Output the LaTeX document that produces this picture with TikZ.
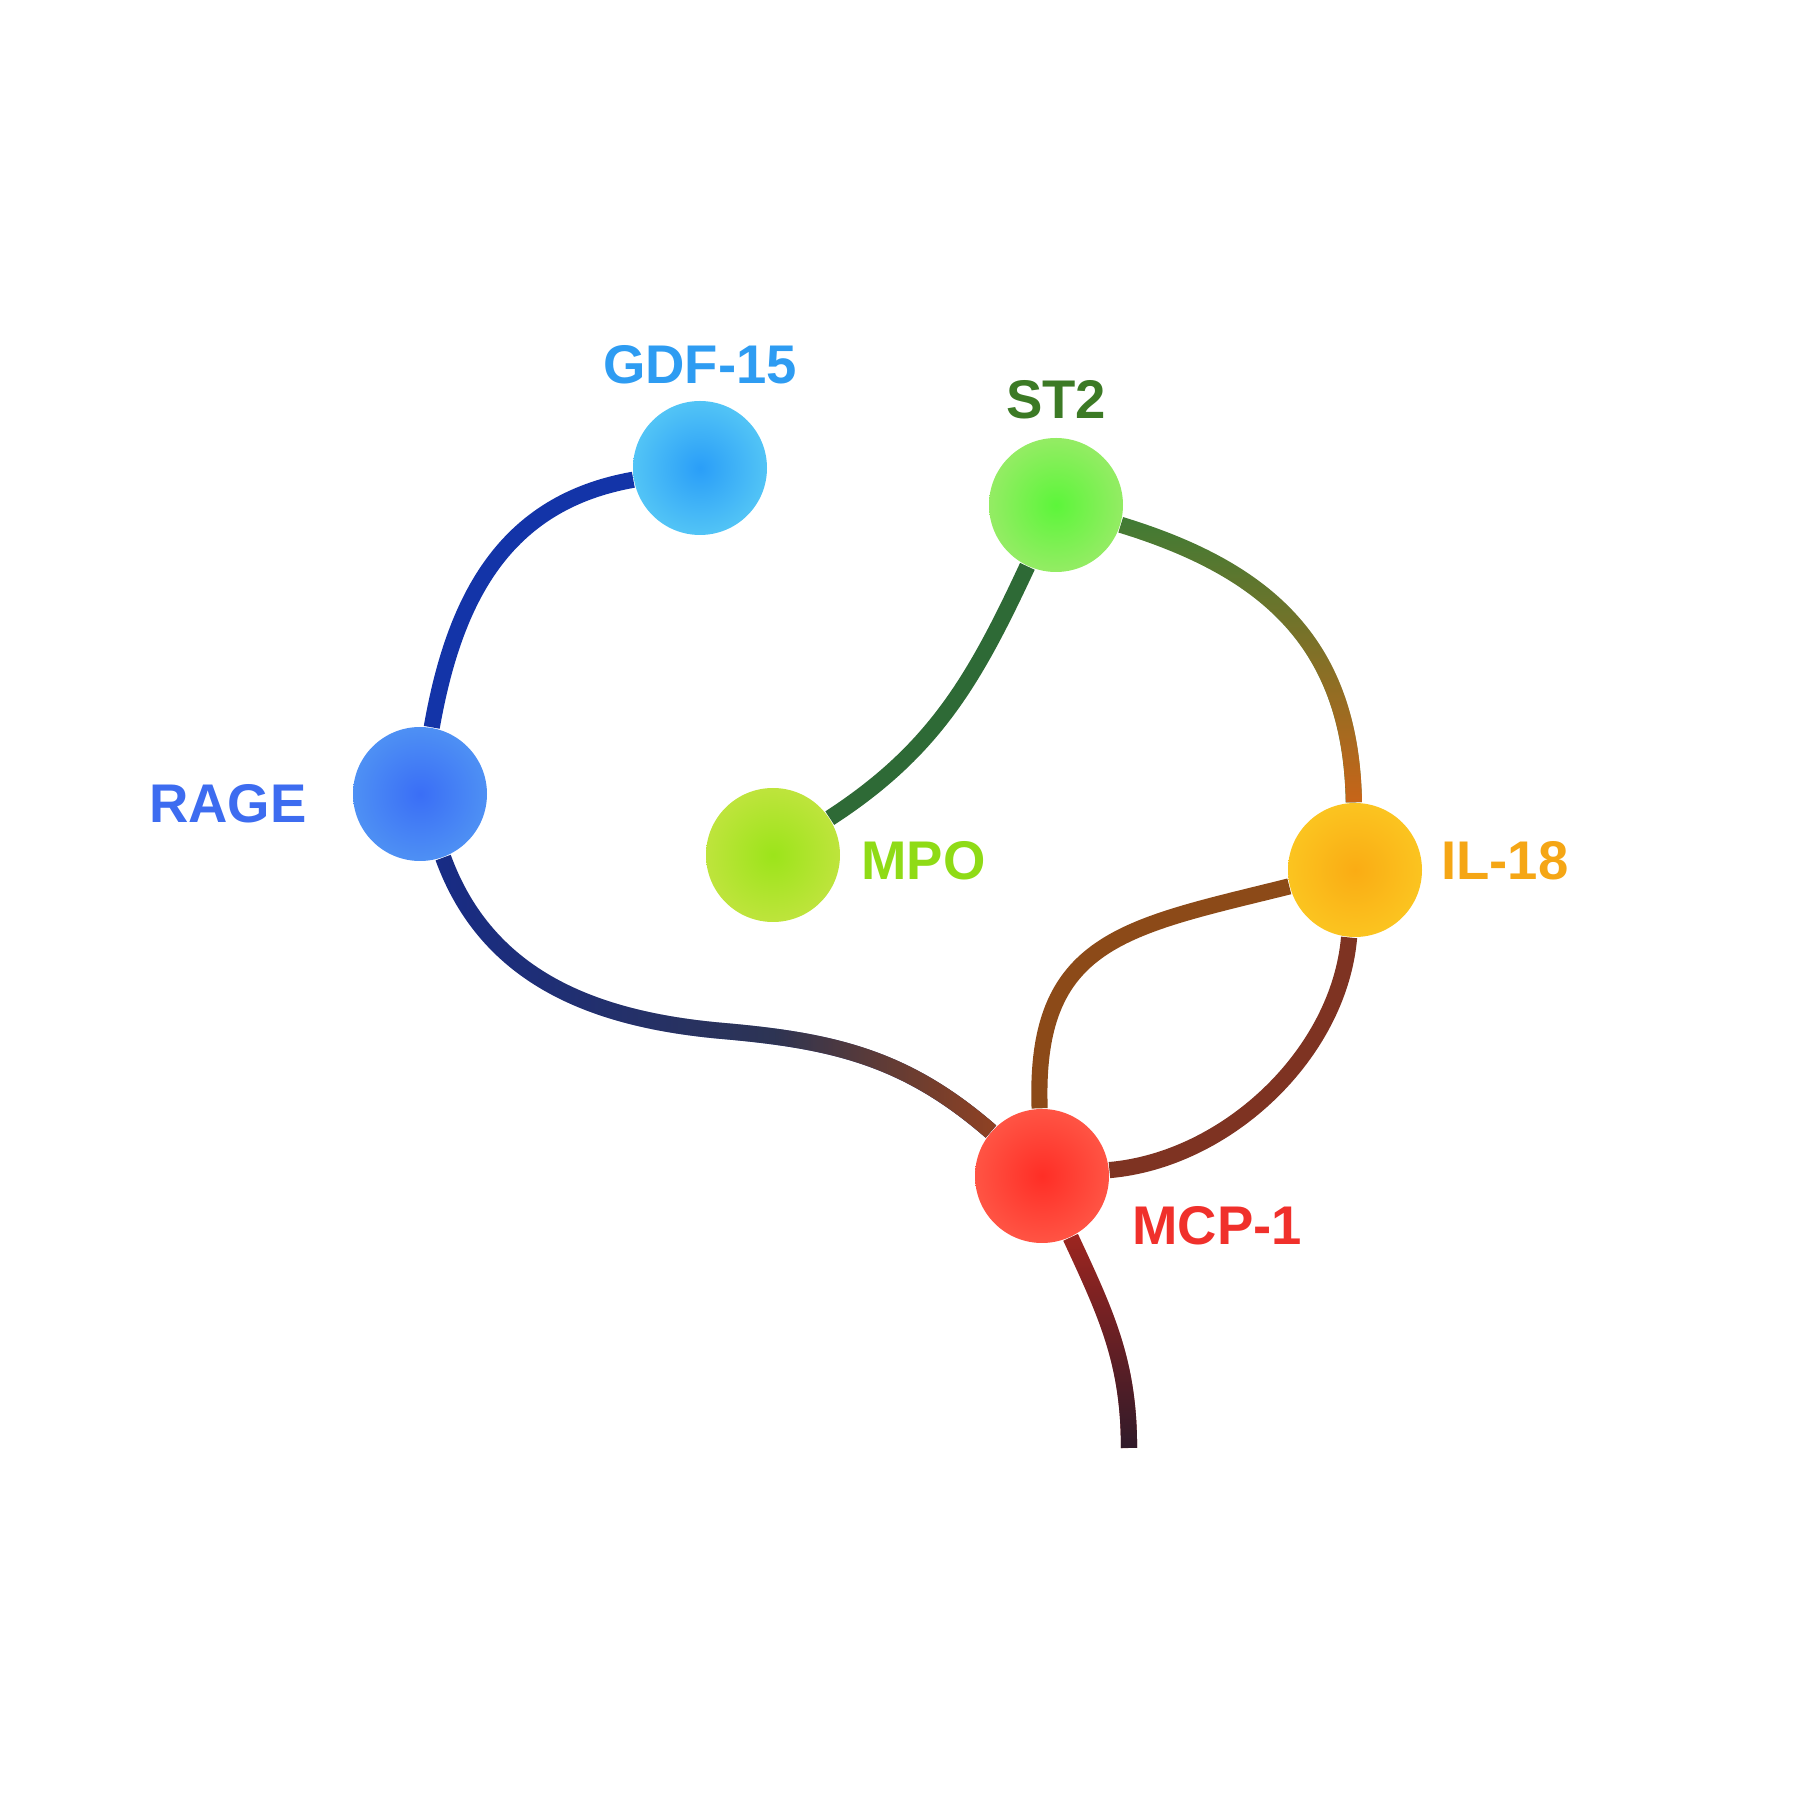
\documentclass[tikz,border=0pt]{standalone}
\usepackage{fontspec}
\setmainfont{Liberation Sans}
\usetikzlibrary{positioning,backgrounds,fadings}

\definecolor{gdfin}{HTML}{2A9EF8}
\definecolor{gdfout}{HTML}{52C4F6}
\definecolor{st2in}{HTML}{5CF63A}
\definecolor{st2out}{HTML}{94EC64}
\definecolor{ragein}{HTML}{3A6EF6}
\definecolor{rageout}{HTML}{4E90F4}
\definecolor{mpoin}{HTML}{9CE41A}
\definecolor{mpoout}{HTML}{BEE43C}
\definecolor{ilin}{HTML}{FAAC14}
\definecolor{ilout}{HTML}{FBC420}
\definecolor{mcpin}{HTML}{FF2E26}
\definecolor{mcpout}{HTML}{FF5444}

\definecolor{gdftext}{HTML}{2E9CF2}
\definecolor{st2text}{HTML}{3C7A25}
\definecolor{ragetext}{HTML}{3D6CF0}
\definecolor{mpotext}{HTML}{8FDB16}
\definecolor{iltext}{HTML}{F5A615}
\definecolor{mcptext}{HTML}{F0302B}

\definecolor{navy}{HTML}{1334A8}
\definecolor{darknavy}{HTML}{182C86}
\definecolor{soot}{HTML}{3C3A33}
\definecolor{moss}{HTML}{2E6A36}
\definecolor{leaf}{HTML}{407C35}
\definecolor{rust}{HTML}{CC6418}
\definecolor{brick}{HTML}{BC461C}
\definecolor{umber}{HTML}{8C4A18}
\definecolor{maroon}{HTML}{7E3322}
\definecolor{wine}{HTML}{A02620}
\definecolor{plum}{HTML}{2C1A2A}

\tikzfading[name=fadesouth, top color=transparent!100, bottom color=transparent!0]
\tikzfading[name=fadeeast, left color=transparent!100, right color=transparent!0]
\pgfdeclarehorizontalshading{lateshade}{100bp}{color(0bp)=(black); color(55bp)=(black); color(85bp)=(white); color(100bp)=(white)}
\pgfdeclarefading{lateeast}{\pgfuseshading{lateshade}}
\pgfdeclareverticalshading{endshade}{100bp}{color(0bp)=(white); color(3bp)=(white); color(13bp)=(black); color(100bp)=(black)}
\pgfdeclarefading{tipfade}{\pgfuseshading{endshade}}

\begin{document}
\begin{tikzpicture}[
        ball/.style={circle, minimum size=1.34cm, inner sep=0pt, shading=radial},
        lbl/.style={inner sep=0pt, font=\fontsize{15.5}{18}\selectfont\bfseries},
        wire/.style={line width=4.6pt}]
        \useasboundingbox (0,0) rectangle (18,18);

        \node(gdf)[ball, inner color=gdfin, outer color=gdfout] at (7.00,13.32) {};
        \node(st2)[ball, inner color=st2in, outer color=st2out] at (10.56,12.95) {};
        \node(rage)[ball, inner color=ragein, outer color=rageout] at (4.20,10.06) {};
        \node(mpo)[ball, inner color=mpoin, outer color=mpoout] at (7.73,9.45) {};
        \node(il18)[ball, inner color=ilin, outer color=ilout] at (13.55,9.30) {};
        \node(mcp)[ball, inner color=mcpin, outer color=mcpout] at (10.42,6.24) {};

        \node(gdfl)[lbl, text=gdftext, above=0.16cm of gdf] {GDF-15};
        \node(st2l)[lbl, text=st2text, above=0.18cm of st2] {ST2};
        \node(ragel)[lbl, text=ragetext, left=0.45cm of rage, yshift=-0.1cm] {RAGE};
        \node(mpol)[lbl, text=mpotext, right=0.2cm of mpo, yshift=-0.06cm] {MPO};
        \node(il18l)[lbl, text=iltext, right=0.18cm of il18, yshift=0.09cm] {IL-18};
        \node(mcpl)[lbl, text=mcptext, right=0.22cm of mcp, yshift=-0.5cm] {MCP-1};

        \coordinate(bend) at (7.23,7.69);
        \coordinate(tail) at (11.29,3.52);

        \begin{scope}[on background layer]
        \draw[wire, navy] (gdf) to[out=190, in=80, looseness=1.05] (rage);
        \draw[wire, moss] (st2) to[out=245, in=33] (mpo);
        \draw[wire, leaf] (st2) to[out=-17, in=91, looseness=1.1] (il18);
        \draw[wire, rust, path fading=fadesouth] (st2) to[out=-17, in=91, looseness=1.1] (il18);
        \draw[wire, darknavy] (rage) to[out=290, in=175] (bend) to[out=-5, in=139] (mcp);
        \draw[wire, soot, path fading=fadeeast] (rage) to[out=290, in=175] (bend) to[out=-5, in=139] (mcp);
        \draw[wire, brick, path fading=lateeast] (rage) to[out=290, in=175] (bend) to[out=-5, in=139] (mcp);
        \draw[wire, umber] (il18) to[out=194, in=92, looseness=1.3] (mcp);
        \draw[wire, maroon] (il18) to[out=265, in=5, looseness=0.9] (mcp);
        \draw[wire, wine] (mcp) to[out=295, in=90] (tail);
        \draw[wire, plum, path fading=fadesouth] (mcp) to[out=295, in=90] (tail);
        \draw[wire, white, path fading=tipfade] (mcp) to[out=295, in=90] (tail);
        \end{scope}
\end{tikzpicture}
\end{document}
